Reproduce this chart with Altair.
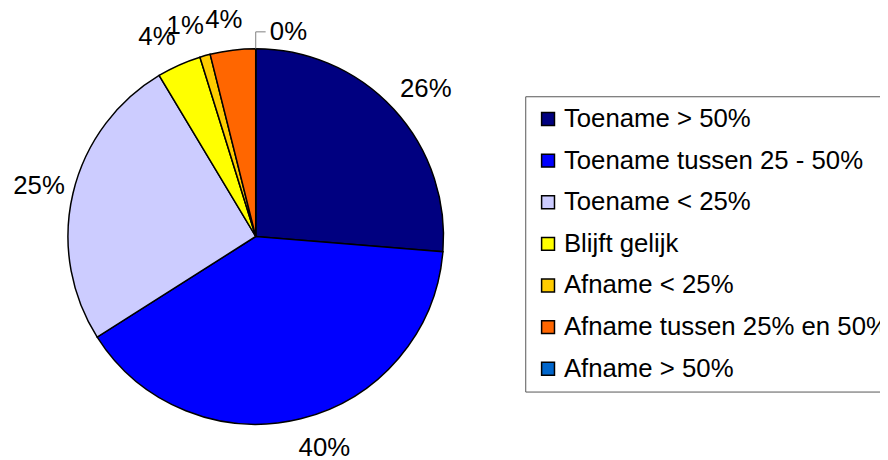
import altair as alt
import pandas as pd

categories = [
    "Toename > 50%",
    "Toename tussen 25 - 50%",
    "Toename < 25%",
    "Blijft gelijk",
    "Afname < 25%",
    "Afname tussen 25% en 50%",
    "Afname > 50%",
]
values = [26.3, 39.7, 25.4, 3.8, 0.9, 3.9, 0.0]
labels = ["26%", "40%", "25%", "4%", "1%", "4%", "0%"]
colors = ["#000080", "#0000FF", "#CCCCFF", "#FFFF00", "#FFCC00", "#FF6600", "#0066CC"]

df = pd.DataFrame({
    "cat": categories,
    "value": values,
    "label": labels,
    "order": list(range(len(categories))),
})

FONT = "Liberation Sans"
FS = 26
CX, CY, R = 250, 228.5, 189.5
RA, HH = 198, 22   # label anchor radius and vertical half-box offset

color = alt.Color(
    "cat:N",
    sort=categories,
    scale=alt.Scale(domain=categories, range=colors),
    legend=alt.Legend(title=None),
)

pie = alt.Chart(df).mark_arc(radius=R, stroke="black", strokeWidth=1.5).encode(
    theta=alt.Theta("value:Q", stack=True),
    order=alt.Order("order:Q"),
    color=color,
    x=alt.value(CX),
    y=alt.value(CY),
)

# labels: anchored at each slice's mid angle, box set just outside the circle
text_main = (
    alt.Chart(df)
    .transform_joinaggregate(total="sum(value)")
    .transform_window(cum="sum(value)", sort=[{"field": "order"}], frame=[None, 0])
    .transform_calculate(
        mid="(datum.cum - datum.value / 2) / datum.total * 2 * PI",
        hw=f"0.5 * {FS} * (0.556 * (length(datum.label) - 1) + 0.889)",
    )
    .transform_calculate(
        px=f"{CX} + {RA} * sin(datum.mid) + datum.hw * clamp(3.5 * sin(datum.mid), -1, 1)",
        py=f"{CY} - ({RA} + {HH}) * cos(datum.mid)",
    )
    .transform_filter("datum.value > 0")
    .mark_text(font=FONT, fontSize=FS, color="black", baseline="middle", align="center")
    .encode(
        text="label:N",
        x=alt.X("px:Q", scale=None, axis=None),
        y=alt.Y("py:Q", scale=None, axis=None),
    )
)

text_zero = (
    alt.Chart(df)
    .transform_filter("datum.value == 0")
    .mark_text(dx=33, dy=-(R + 17), font=FONT, fontSize=FS, color="black",
               baseline="middle", align="center")
    .encode(text="label:N", x=alt.value(CX), y=alt.value(CY))
)

leader_v = alt.Chart(df.head(1)).mark_rule(color="#808080", strokeWidth=1).encode(
    x=alt.value(CX), y=alt.value(CY - R), y2=alt.value(CY - R - 17)
)
leader_h = alt.Chart(df.head(1)).mark_rule(color="#808080", strokeWidth=1).encode(
    x=alt.value(CX), x2=alt.value(CX + 10), y=alt.value(CY - R - 17)
)

chart = alt.layer(pie, text_main, text_zero, leader_v, leader_h).properties(
    width=880,
    height=452,
    autosize=alt.AutoSizeParams(type="none"),
    padding=0,
).configure_view(stroke=None).configure_legend(
    orient="none",
    legendX=522,
    legendY=87,
    strokeColor="#555555",
    fillColor="white",
    padding=10,
    labelFont=FONT,
    labelFontSize=FS,
    labelColor="black",
    labelLimit=500,
    symbolType="square",
    symbolSize=169,
    symbolStrokeColor="black",
    symbolStrokeWidth=1.5,
    symbolOpacity=1,
    rowPadding=16,
    labelOffset=3,
)

chart.save("out.html", embed_options={"renderer": "svg", "actions": False})
